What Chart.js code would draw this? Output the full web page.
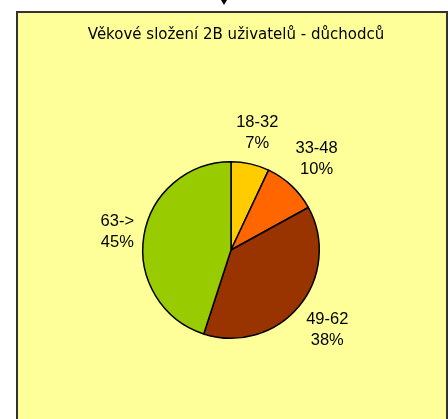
<!DOCTYPE html>
<html>
<head>
<meta charset="utf-8">
<script src="https://cdn.jsdelivr.net/npm/chart.js@4"></script>
<style>
  html, body { margin: 0; padding: 0; background: #ffffff; }
  #wrap { width: 448px; height: 419px; }
</style>
</head>
<body>
<div id="wrap"><canvas id="pieChart" width="448" height="419"></canvas></div>
<script>
// ----------------------------------------
// Datos
// ----------------------------------------
const chartTitle = 'Věkové složení 2B uživatelů - důchodců';
const ageGroups = ['18-32', '33-48', '49-62', '63->'];
const sharePct = [7, 10, 38, 45];
const sliceColors = ['#FFCC00', '#FF6600', '#993300', '#99CC00'];

const FONT = '"Liberation Sans", Arial, sans-serif';
const TITLE_FONT = '"DejaVu Sans", Verdana, sans-serif';

// Fondo amarillo con marco y la pequeña flecha de arriba
const framePlugin = {
  id: 'frame',
  beforeDraw(chart) {
    const ctx = chart.ctx;
    ctx.save();
    ctx.fillStyle = '#FFFF99';
    ctx.fillRect(17, 12, 430, 410);
    ctx.strokeStyle = '#333333';
    ctx.lineWidth = 2;
    ctx.strokeRect(17, 12, 430, 420);
    // flecha
    ctx.fillStyle = '#000000';
    ctx.beginPath();
    ctx.moveTo(221, 0);
    ctx.lineTo(227, 0);
    ctx.lineTo(224, 5);
    ctx.closePath();
    ctx.fill();
    // título
    ctx.font = '15px ' + TITLE_FONT;
    ctx.textAlign = 'center';
    ctx.textBaseline = 'middle';
    ctx.fillText(chartTitle, 236, 35);
    ctx.restore();
  }
};

// Etiquetas fuera del pastel: categoría + porcentaje
const outsideLabels = {
  id: 'outsideLabels',
  afterDatasetsDraw(chart) {
    const ctx = chart.ctx;
    const meta = chart.getDatasetMeta(0);
    const lineH = 21;
    const pad = 7;
    ctx.save();
    ctx.font = '16.5px ' + FONT;
    ctx.fillStyle = '#000000';
    ctx.textAlign = 'center';
    ctx.textBaseline = 'middle';
    meta.data.forEach((arc, i) => {
      const p = arc.getProps(['x', 'y', 'startAngle', 'endAngle', 'outerRadius'], true);
      const mid = (p.startAngle + p.endAngle) / 2;
      const lines = [ageGroups[i], sharePct[i] + '%'];
      const w = Math.max(...lines.map(t => ctx.measureText(t).width));
      const h = lines.length * lineH;
      const c = Math.cos(mid), s = Math.sin(mid);
      const half = Math.abs(c) * w / 2 + Math.abs(s) * h / 2;
      const d = p.outerRadius + pad + half;
      const cx = p.x + c * d;
      const cy = p.y + s * d;
      lines.forEach((t, k) => {
        ctx.fillText(t, cx, cy + (k - (lines.length - 1) / 2) * lineH);
      });
    });
    ctx.restore();
  }
};

const ctxPie = document.getElementById('pieChart').getContext('2d');
const pieChart = new Chart(ctxPie, {
  type: 'pie',
  data: {
    labels: ageGroups,
    datasets: [{
      data: sharePct,
      backgroundColor: sliceColors,
      borderColor: '#000000',
      borderWidth: 1.5,
      hoverOffset: 0
    }]
  },
  options: {
    responsive: false,
    animation: false,
    // área del gráfico: centro (231, 250), radio ~89
    layout: { padding: { left: 142, right: 128, top: 161, bottom: 80 } },
    plugins: {
      legend: { display: false },
      title: { display: false },
      tooltip: { enabled: false }
    }
  },
  plugins: [framePlugin, outsideLabels]
});
</script>
</body>
</html>
